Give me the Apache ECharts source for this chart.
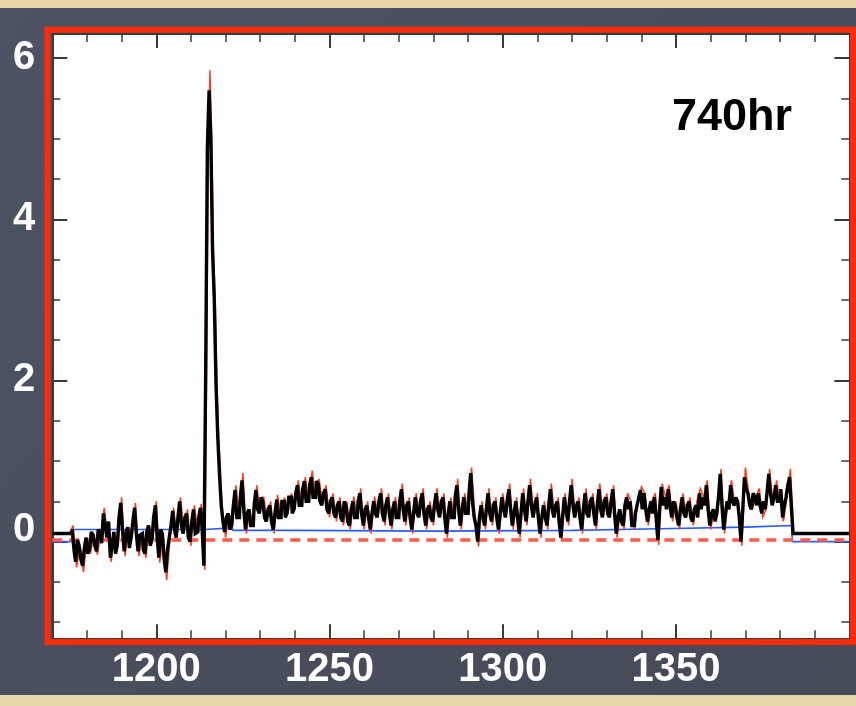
<!DOCTYPE html>
<html>
<head>
<meta charset="utf-8">
<script src="https://cdn.jsdelivr.net/npm/echarts@6/dist/echarts.min.js"></script>
<style>
  html, body { margin: 0; padding: 0; background: #4b515f; }
  #chart { width: 856px; height: 706px; }
</style>
</head>
<body>
<div id="chart"></div>
<script>
// Binned spectrum: regular 0.5 A grid starting at 1176 A
const fluxStart = 1176;
const fluxStep = 0.5;
const flux = [
  0.15, -0.1, -0.25, 0.02, -0.05, -0.22, -0.3, -0.08, 0.05, -0.15,
  -0.1, 0.12, 0.08, -0.05, -0.12, 0.15, 0.1, -0.02, 0.35, 0.2,
  0.05, 0.25, -0.2, -0.05, 0.12, -0.15, -0.05, 0.3, 0.48, 0.15,
  -0.12, 0.1, 0.18, -0.08, 0.05, 0.25, 0.42, 0.1, -0.12, 0.08,
  0.1, -0.1, -0.15, 0.12, 0.2, -0.05, 0.02, 0.3, 0.45, 0.05,
  -0.2, 0.15, 0.1, -0.2, -0.38, -0.1, 0.05, 0.2, 0.38, 0.15,
  0.05, 0.3, 0.5, 0.2, 0.1, 0.3, 0.35, 0.05, 0.0, 0.25,
  0.4, 0.1, 0.12, 0.3, 0.42, 0.15, -0.3, 2.05, 4.9, 5.6,
  5.0, 3.6, 3.0, 1.95, 1.3, 0.83, 0.45, 0.25, 0.12, 0.3,
  0.35, 0.15, 0.2, 0.45, 0.64, 0.3, 0.3, 0.55, 0.76, 0.4,
  0.15, 0.35, 0.4, 0.2, 0.2, 0.45, 0.64, 0.4, 0.35, 0.55,
  0.5, 0.3, 0.25, 0.4, 0.45, 0.25, 0.15, 0.35, 0.52, 0.3,
  0.3, 0.5, 0.5, 0.3, 0.35, 0.55, 0.55, 0.35, 0.4, 0.6,
  0.7, 0.45, 0.45, 0.65, 0.75, 0.5, 0.5, 0.7, 0.8, 0.55,
  0.55, 0.75, 0.72, 0.5, 0.45, 0.6, 0.65, 0.4, 0.35, 0.5,
  0.55, 0.35, 0.3, 0.45, 0.5, 0.3, 0.25, 0.5, 0.45, 0.25,
  0.2, 0.4, 0.5, 0.3, 0.3, 0.5, 0.6, 0.35, 0.2, 0.4,
  0.45, 0.3, 0.15, 0.35, 0.5, 0.35, 0.3, 0.5, 0.6, 0.35,
  0.25, 0.45, 0.55, 0.35, 0.2, 0.4, 0.5, 0.3, 0.3, 0.5,
  0.65, 0.4, 0.25, 0.45, 0.5, 0.3, 0.15, 0.35, 0.55, 0.35,
  0.3, 0.5, 0.6, 0.35, 0.2, 0.4, 0.45, 0.3, 0.25, 0.45,
  0.6, 0.4, 0.3, 0.5, 0.55, 0.3, 0.1, 0.35, 0.5, 0.3,
  0.3, 0.55, 0.7, 0.4, 0.2, 0.4, 0.55, 0.35, 0.35, 0.6,
  0.85, 0.5, 0.3, 0.2, 0.0, 0.3, 0.45, 0.3, 0.2, 0.4,
  0.6, 0.35, 0.25, 0.45, 0.5, 0.3, 0.15, 0.35, 0.55, 0.4,
  0.3, 0.5, 0.65, 0.4, 0.2, 0.35, 0.5, 0.3, 0.1, 0.35,
  0.6, 0.4, 0.25, 0.5, 0.7, 0.45, 0.3, 0.45, 0.55, 0.3,
  0.1, 0.3, 0.45, 0.3, 0.2, 0.45, 0.65, 0.4, 0.3, 0.45,
  0.5, 0.25, 0.05, 0.3, 0.55, 0.4, 0.25, 0.5, 0.7, 0.45,
  0.3, 0.45, 0.5, 0.3, 0.15, 0.4, 0.6, 0.35, 0.3, 0.5,
  0.55, 0.35, 0.2, 0.45, 0.65, 0.4, 0.3, 0.5, 0.55, 0.35,
  0.3, 0.5, 0.65, 0.35, 0.1, 0.3, 0.4, 0.25, 0.2, 0.45,
  0.55, 0.4, 0.5, 0.2, 0.2, 0.35, 0.45, 0.55, 0.64, 0.4,
  0.6, 0.4, 0.25, 0.4, 0.5, 0.35, 0.55, 0.3, 0.02, 0.4,
  0.68, 0.45, 0.55, 0.4, 0.65, 0.45, 0.3, 0.5, 0.45, 0.3,
  0.2, 0.4, 0.55, 0.35, 0.3, 0.45, 0.5, 0.3, 0.25, 0.4,
  0.45, 0.3, 0.6, 0.4, 0.55, 0.45, 0.7, 0.4, 0.2, 0.35,
  0.4, 0.25, 0.35, 0.55, 0.84, 0.45, 0.15, 0.35, 0.5, 0.4,
  0.7, 0.5, 0.45, 0.55, 0.5, 0.3, 0.0, 0.4, 0.8, 0.65,
  0.6, 0.45, 0.4, 0.6, 0.55, 0.45, 0.6, 0.45, 0.35, 0.5,
  0.4, 0.6, 0.84, 0.6, 0.45, 0.55, 0.7, 0.5, 0.5, 0.65,
  0.3, 0.45, 0.55, 0.7, 0.8, 0.45, 0.1
];

// Flat shelves outside the detector range
const shelfWave = [1170, 1175.5, 1384.5, 1400];
const shelfFlux = [0.1, 0.1, 0.1, 0.1];

// Unbinned spectrum (red, drawn underneath)
const rawWave = [
  1170, 1175,
  1176, 1177, 1178, 1179, 1180, 1181, 1182, 1183, 1184, 1185,
  1186, 1187, 1188, 1189, 1190, 1191, 1192, 1193, 1194, 1195,
  1196, 1197, 1198, 1199, 1200, 1201, 1202, 1203, 1204, 1205,
  1206, 1207, 1208, 1209, 1210, 1211, 1212, 1213, 1214,
  1214.5, 1215, 1215.5, 1216, 1216.5, 1217, 1217.5, 1218, 1218.5, 1219,
  1220, 1221, 1222, 1223, 1224, 1225, 1226, 1227, 1228, 1229,
  1230, 1231, 1232, 1233, 1234, 1235, 1236, 1237, 1238, 1239,
  1240, 1241, 1242, 1243, 1244, 1245, 1246, 1247, 1248, 1249,
  1250, 1251, 1252, 1253, 1254, 1255, 1256, 1257, 1258, 1259,
  1260, 1261, 1262, 1263, 1264, 1265, 1266, 1267, 1268, 1269,
  1270, 1271, 1272, 1273, 1274, 1275, 1276, 1277, 1278, 1279,
  1280, 1281, 1282, 1283, 1284, 1285, 1286, 1287, 1288, 1289,
  1290, 1291, 1292, 1293, 1294, 1295, 1296, 1297, 1298, 1299,
  1300, 1301, 1302, 1303, 1304, 1305, 1306, 1307, 1308, 1309,
  1310, 1311, 1312, 1313, 1314, 1315, 1316, 1317, 1318, 1319,
  1320, 1321, 1322, 1323, 1324, 1325, 1326, 1327, 1328, 1329,
  1330, 1331, 1332, 1333, 1334, 1335, 1336, 1337, 1338, 1339,
  1340, 1341, 1342, 1343, 1344, 1345, 1346, 1347, 1348, 1349,
  1350, 1351, 1352, 1353, 1354, 1355, 1356, 1357, 1358, 1359,
  1360, 1361, 1362, 1363, 1364, 1365, 1366, 1367, 1368, 1369,
  1370, 1371, 1372, 1373, 1374, 1375, 1376, 1377, 1378, 1379,
  1380, 1381, 1382, 1383, 1384,
  1400
];
const fluxRaw = [
  0.1, 0.1,
  0.2, -0.32, -0.05, -0.38, 0.05, -0.15, 0.1, -0.16, 0.1, 0.42,
  0.05, -0.25, 0.12, -0.05, 0.55, -0.18, 0.18, 0.05, 0.48, -0.18,
  0.1, -0.2, 0.2, 0.02, 0.5, -0.26, 0.1, -0.48, 0.05, 0.42,
  0.05, 0.55, 0.1, 0.4, -0.05, 0.45, 0.12, 0.47, -0.35,
  2.05, 4.9, 5.85, 5.0, 3.6, 3.0, 1.95, 1.3, 0.9, 0.45,
  0.05, 0.35, 0.2, 0.7, 0.3, 0.85, 0.1, 0.4, 0.2, 0.7,
  0.35, 0.56, 0.25, 0.5, 0.1, 0.58, 0.3, 0.55, 0.35, 0.6,
  0.4, 0.76, 0.45, 0.8, 0.5, 0.88, 0.55, 0.78, 0.45, 0.7,
  0.3, 0.6, 0.25, 0.55, 0.2, 0.5, 0.15, 0.56, 0.3, 0.66,
  0.15, 0.5, 0.1, 0.56, 0.3, 0.66, 0.2, 0.6, 0.15, 0.55,
  0.3, 0.72, 0.2, 0.55, 0.1, 0.6, 0.3, 0.66, 0.15, 0.5,
  0.2, 0.66, 0.3, 0.6, 0.05, 0.55, 0.3, 0.78, 0.15, 0.6,
  0.35, 0.92, 0.3, -0.06, 0.5, 0.15, 0.66, 0.2, 0.55, 0.1,
  0.6, 0.3, 0.72, 0.15, 0.55, 0.05, 0.66, 0.2, 0.78, 0.3,
  0.6, 0.05, 0.5, 0.15, 0.72, 0.3, 0.55, 0.0, 0.6, 0.2,
  0.78, 0.3, 0.55, 0.1, 0.66, 0.3, 0.6, 0.15, 0.72, 0.3,
  0.6, 0.3, 0.7, 0.05, 0.4, 0.15, 0.6, 0.5, 0.15, 0.5,
  0.68, 0.6, 0.2, 0.5, 0.6, -0.04, 0.72, 0.55, 0.7, 0.25,
  0.5, 0.15, 0.6, 0.3, 0.55, 0.2, 0.5, 0.66, 0.55, 0.76,
  0.15, 0.4, 0.35, 0.9, 0.1, 0.5, 0.76, 0.45, 0.5, -0.05,
  0.92, 0.6, 0.4, 0.55, 0.66, 0.3, 0.4, 0.9, 0.45, 0.76,
  0.5, 0.25, 0.55, 0.9, 0.1,
  0.1
];

// Error level (blue)
const errWave = [1170, 1176, 1214, 1222, 1240, 1280, 1320, 1345, 1370, 1383.5, 1400];
const errVal  = [0.0, 0.15, 0.17, 0.14, 0.13, 0.14, 0.16, 0.18, 0.2, 0.0, 0.0];

// Continuum reference level (red dashed)
const zeroWave = [1170, 1400];
const zeroVal  = [0.02, 0.02];

const xTickLabels = ['1200', '1250', '1300', '1350'];
const yTickLabels = ['0', '2', '4', '6'];
const panelLabel = '740hr';

const pairs = (xs, ys) => xs.map((x, i) => [x, ys[i]]);

// black spectrum: left shelf, regular grid, right shelf
const binnedData = [[shelfWave[0], shelfFlux[0]], [shelfWave[1], shelfFlux[1]]]
  .concat(flux.map((v, i) => [fluxStart + i * fluxStep, v]))
  .concat([[shelfWave[2], shelfFlux[2]], [shelfWave[3], shelfFlux[3]]]);

const labelFont = {
  color: '#ffffff',
  fontFamily: 'Liberation Sans',
  fontWeight: 'bold',
  fontSize: 40
};
const axisColor = '#3a3a3a';

const chart = echarts.init(document.getElementById('chart'), null, { renderer: 'canvas' });

const baseX = {
  type: 'value',
  min: 1170,
  max: 1400,
  splitNumber: 5,
  axisLine: { show: true, onZero: false, lineStyle: { color: axisColor, width: 2 } },
  axisTick: { show: true, inside: true, length: 14, lineStyle: { color: axisColor, width: 2 } },
  minorTick: { show: true, splitNumber: 5, length: 8, lineStyle: { color: axisColor, width: 1.5 } },
  splitLine: { show: false },
  minorSplitLine: { show: false }
};
const baseY = {
  type: 'value',
  min: -1.2,
  max: 6.3,
  splitNumber: 4,
  axisLine: { show: true, onZero: false, lineStyle: { color: axisColor, width: 2 } },
  axisTick: { show: true, inside: true, length: 15, lineStyle: { color: axisColor, width: 2 } },
  minorTick: { show: true, splitNumber: 4, length: 8, lineStyle: { color: axisColor, width: 1.5 } },
  splitLine: { show: false },
  minorSplitLine: { show: false }
};

const option = {
  animation: false,
  backgroundColor: {
    type: 'linear', x: 0, y: 0, x2: 1, y2: 1,
    colorStops: [
      { offset: 0, color: '#4d5362' },
      { offset: 0.5, color: '#484e5c' },
      { offset: 1, color: '#454a57' }
    ]
  },
  grid: {
    left: 52.3, top: 34, right: 6.7, bottom: 67.7,
    show: true, backgroundColor: '#ffffff', borderWidth: 0,
    containLabel: false, outerBoundsMode: 'none'
  },
  xAxis: [
    Object.assign({}, baseX, {
      position: 'bottom',
      axisLabel: Object.assign({
        show: true, margin: 12, showMinLabel: false, showMaxLabel: false,
        formatter: v => (xTickLabels.indexOf(String(v)) >= 0 ? String(v) : '')
      }, labelFont)
    }),
    Object.assign({}, baseX, { position: 'top', axisLabel: { show: false } })
  ],
  yAxis: [
    Object.assign({}, baseY, {
      position: 'left',
      axisLabel: Object.assign({
        show: true, margin: 17, showMinLabel: false, showMaxLabel: false,
        formatter: v => {
          const s = String(v);
          if (yTickLabels.indexOf(s) < 0) return '';
          return s === '0' ? '{z|0}' : s;
        },
        rich: {
          z: Object.assign({ padding: [0, 0, 24, 0] }, labelFont)
        }
      }, labelFont)
    }),
    Object.assign({}, baseY, { position: 'right', axisLabel: { show: false } })
  ],
  series: [
    {
      name: 'error',
      type: 'line',
      data: pairs(errWave, errVal),
      step: 'end',
      showSymbol: false,
      lineStyle: { color: '#2a5cf5', width: 1.6 },
      z: 2
    },
    {
      name: 'zero',
      type: 'line',
      data: pairs(zeroWave, zeroVal),
      showSymbol: false,
      lineStyle: { color: '#ff5a4a', width: 3.5, type: [10, 7] },
      z: 3
    },
    {
      name: 'raw',
      type: 'line',
      data: pairs(rawWave, fluxRaw),
      showSymbol: false,
      lineStyle: { color: '#ff3a1c', width: 1.5, join: 'miter', miterLimit: 4 },
      z: 4
    },
    {
      name: 'binned',
      type: 'line',
      data: binnedData,
      step: 'middle',
      showSymbol: false,
      lineStyle: { color: '#000000', width: 3.4, join: 'miter', miterLimit: 2 },
      z: 5
    }
  ],
  graphic: [
    // parchment strips at the top and bottom edges
    { type: 'rect', z: 0, silent: true, shape: { x: 0, y: 0, width: 856, height: 8 },
      style: { fill: '#e6d3a8' } },
    { type: 'rect', z: 0, silent: true, shape: { x: 0, y: 695, width: 856, height: 11 },
      style: { fill: '#e8d6ac' } },
    // red frame around the plot panel
    { type: 'rect', z: 100, silent: true,
      shape: { x: 47.5, y: 29.8, width: 805.5, height: 612.2 },
      style: { fill: null, stroke: '#ff2a08', lineWidth: 6 } },
    // panel label
    { type: 'text', z: 100, silent: true,
      style: { text: panelLabel, x: 672, y: 118, align: 'left', verticalAlign: 'middle',
               font: 'bold 45px "Liberation Sans"', fill: '#000000' } }
  ]
};

chart.setOption(option);
</script>
</body>
</html>
